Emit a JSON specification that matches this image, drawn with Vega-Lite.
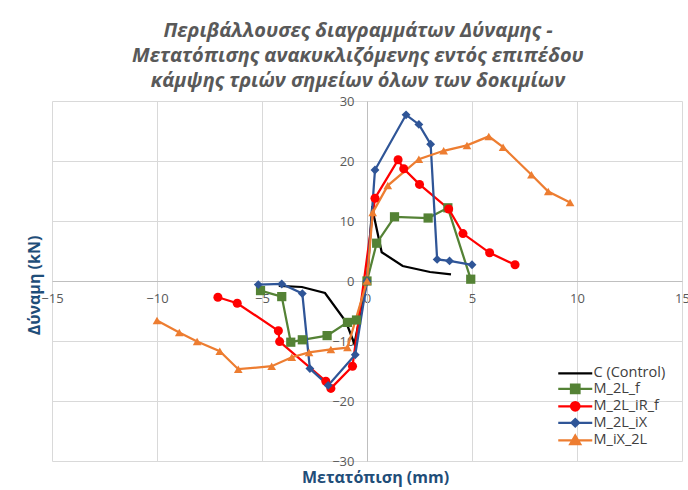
{
  "$schema": "https://vega.github.io/schema/vega-lite/v6.json",
  "width": 630,
  "height": 360,
  "autosize": "none",
  "padding": {"left": 52, "top": 101, "right": 6, "bottom": 29},
  "background": "white",
  "config": {"view": {"stroke": null}, "font": "Open Sans"},
  "title": {
    "text": ["Περιβάλλουσες διαγραμμάτων Δύναμης -", "Μετατόπισης ανακυκλιζόμενης εντός επιπέδου", "κάμψης τριών σημείων όλων των δοκιμίων"],
    "font": "Open Sans",
    "fontStyle": "italic",
    "fontWeight": "bold",
    "fontSize": 20,
    "color": "#595959",
    "lineHeight": 25,
    "anchor": "middle",
    "frame": "group",
    "dx": -9,
    "offset": 4
  },
  "data": {
    "values": [
      {"s": "C (Control)", "i": 1, "x": -4.2, "y": -0.8},
      {"s": "C (Control)", "i": 2, "x": -3.1, "y": -1.0},
      {"s": "C (Control)", "i": 3, "x": -2.0, "y": -2.0},
      {"s": "C (Control)", "i": 4, "x": -1.0, "y": -6.8},
      {"s": "C (Control)", "i": 5, "x": -0.6, "y": -10.5},
      {"s": "C (Control)", "i": 6, "x": 0, "y": 0},
      {"s": "C (Control)", "i": 7, "x": 0.25, "y": 12.5},
      {"s": "C (Control)", "i": 8, "x": 0.35, "y": 10.5},
      {"s": "C (Control)", "i": 9, "x": 0.7, "y": 4.8},
      {"s": "C (Control)", "i": 10, "x": 1.7, "y": 2.5},
      {"s": "C (Control)", "i": 11, "x": 3.0, "y": 1.5},
      {"s": "C (Control)", "i": 12, "x": 4.0, "y": 1.1},

      {"s": "M_2L_f", "i": 1, "x": -5.07, "y": -1.6},
      {"s": "M_2L_f", "i": 2, "x": -4.06, "y": -2.6},
      {"s": "M_2L_f", "i": 3, "x": -3.63, "y": -10.2},
      {"s": "M_2L_f", "i": 4, "x": -3.08, "y": -9.8},
      {"s": "M_2L_f", "i": 5, "x": -1.9, "y": -9.1},
      {"s": "M_2L_f", "i": 6, "x": -0.93, "y": -6.9},
      {"s": "M_2L_f", "i": 7, "x": -0.5, "y": -6.5},
      {"s": "M_2L_f", "i": 8, "x": 0, "y": 0},
      {"s": "M_2L_f", "i": 9, "x": 0.46, "y": 6.3},
      {"s": "M_2L_f", "i": 10, "x": 1.31, "y": 10.7},
      {"s": "M_2L_f", "i": 11, "x": 2.91, "y": 10.5},
      {"s": "M_2L_f", "i": 12, "x": 3.85, "y": 12.2},
      {"s": "M_2L_f", "i": 13, "x": 4.94, "y": 0.3},

      {"s": "M_2L_iR_f", "i": 1, "x": -7.1, "y": -2.7},
      {"s": "M_2L_iR_f", "i": 2, "x": -6.18, "y": -3.7},
      {"s": "M_2L_iR_f", "i": 3, "x": -4.22, "y": -8.3},
      {"s": "M_2L_iR_f", "i": 4, "x": -4.16, "y": -10.1},
      {"s": "M_2L_iR_f", "i": 5, "x": -1.96, "y": -16.7},
      {"s": "M_2L_iR_f", "i": 6, "x": -1.72, "y": -17.9},
      {"s": "M_2L_iR_f", "i": 7, "x": -0.69, "y": -14.2},
      {"s": "M_2L_iR_f", "i": 8, "x": 0.38, "y": 13.8},
      {"s": "M_2L_iR_f", "i": 9, "x": 1.48, "y": 20.2},
      {"s": "M_2L_iR_f", "i": 10, "x": 1.75, "y": 18.7},
      {"s": "M_2L_iR_f", "i": 11, "x": 2.5, "y": 16.1},
      {"s": "M_2L_iR_f", "i": 12, "x": 3.89, "y": 12.0},
      {"s": "M_2L_iR_f", "i": 13, "x": 4.57, "y": 7.9},
      {"s": "M_2L_iR_f", "i": 14, "x": 5.84, "y": 4.7},
      {"s": "M_2L_iR_f", "i": 15, "x": 7.05, "y": 2.7},

      {"s": "M_2L_iX", "i": 1, "x": -5.18, "y": -0.6},
      {"s": "M_2L_iX", "i": 2, "x": -4.06, "y": -0.5},
      {"s": "M_2L_iX", "i": 3, "x": -3.08, "y": -2.1},
      {"s": "M_2L_iX", "i": 4, "x": -2.72, "y": -14.6},
      {"s": "M_2L_iX", "i": 5, "x": -1.85, "y": -17.4},
      {"s": "M_2L_iX", "i": 6, "x": -0.56, "y": -12.3},
      {"s": "M_2L_iX", "i": 7, "x": 0, "y": 0},
      {"s": "M_2L_iX", "i": 8, "x": 0.38, "y": 18.5},
      {"s": "M_2L_iX", "i": 9, "x": 1.86, "y": 27.7},
      {"s": "M_2L_iX", "i": 10, "x": 2.47, "y": 26.1},
      {"s": "M_2L_iX", "i": 11, "x": 3.03, "y": 22.8},
      {"s": "M_2L_iX", "i": 12, "x": 3.34, "y": 3.6},
      {"s": "M_2L_iX", "i": 13, "x": 3.93, "y": 3.35},
      {"s": "M_2L_iX", "i": 14, "x": 5.0, "y": 2.7},

      {"s": "M_iX_2L", "i": 1, "x": -10.0, "y": -6.6},
      {"s": "M_iX_2L", "i": 2, "x": -8.94, "y": -8.6},
      {"s": "M_iX_2L", "i": 3, "x": -8.09, "y": -10.1},
      {"s": "M_iX_2L", "i": 4, "x": -7.01, "y": -11.7},
      {"s": "M_iX_2L", "i": 5, "x": -6.13, "y": -14.7},
      {"s": "M_iX_2L", "i": 6, "x": -4.54, "y": -14.2},
      {"s": "M_iX_2L", "i": 7, "x": -3.58, "y": -12.7},
      {"s": "M_iX_2L", "i": 8, "x": -2.76, "y": -11.9},
      {"s": "M_iX_2L", "i": 9, "x": -1.72, "y": -11.4},
      {"s": "M_iX_2L", "i": 10, "x": -0.93, "y": -11.1},
      {"s": "M_iX_2L", "i": 11, "x": 0, "y": 0},
      {"s": "M_iX_2L", "i": 12, "x": 0.27, "y": 11.4},
      {"s": "M_iX_2L", "i": 13, "x": 0.99, "y": 15.9},
      {"s": "M_iX_2L", "i": 14, "x": 2.47, "y": 20.3},
      {"s": "M_iX_2L", "i": 15, "x": 3.65, "y": 21.7},
      {"s": "M_iX_2L", "i": 16, "x": 4.76, "y": 22.6},
      {"s": "M_iX_2L", "i": 17, "x": 5.8, "y": 24.1},
      {"s": "M_iX_2L", "i": 18, "x": 6.48, "y": 22.3},
      {"s": "M_iX_2L", "i": 19, "x": 7.83, "y": 17.7},
      {"s": "M_iX_2L", "i": 20, "x": 8.63, "y": 14.9},
      {"s": "M_iX_2L", "i": 21, "x": 9.67, "y": 13.1}
    ]
  },
  "encoding": {
    "x": {
      "field": "x", "type": "quantitative",
      "scale": {"domain": [-15, 15], "nice": false, "zero": false},
      "axis": {
        "orient": "bottom", "offset": -180, "values": [-15, -10, -5, 0, 5, 10, 15],
        "grid": true, "gridColor": "#D9D9D9", "gridWidth": 1,
        "ticks": true, "tickSize": 0, "domain": true, "domainColor": "#BFBFBF", "domainWidth": 1,
        "labelFont": "Open Sans", "labelFontSize": 13, "labelColor": "#595959",
        "labelPadding": 11, "labelFlush": false, "labelOverlap": false,
        "title": "Μετατόπιση (mm)", "titleFont": "Open Sans", "titleFontSize": 16,
        "titleFontWeight": "bold", "titleColor": "#1F4E79",
        "titleX": 323, "titleY": 196, "titleBaseline": "middle", "titleAlign": "center"
      }
    },
    "y": {
      "field": "y", "type": "quantitative",
      "scale": {"domain": [-30, 30], "nice": false, "zero": false},
      "axis": {
        "orient": "left", "offset": -315, "values": [-30, -20, -10, 0, 10, 20, 30],
        "grid": true, "gridColor": "#D9D9D9", "gridWidth": 1,
        "ticks": true, "tickSize": 0, "domain": true, "domainColor": "#BFBFBF", "domainWidth": 1,
        "labelFont": "Open Sans", "labelFontSize": 13, "labelColor": "#595959",
        "labelPadding": 13, "labelFlush": false, "labelOverlap": false,
        "title": "Δύναμη (kN)", "titleFont": "Open Sans", "titleFontSize": 16,
        "titleFontWeight": "bold", "titleColor": "#1F4E79",
        "titleX": -333, "titleY": 184, "titleAngle": -90, "titleBaseline": "middle", "titleAlign": "center"
      }
    }
  },
  "layer": [
    {
      "mark": {"type": "line", "strokeWidth": 2.25},
      "encoding": {
        "color": {
          "field": "s", "type": "nominal",
          "scale": {
            "domain": ["C (Control)", "M_2L_f", "M_2L_iR_f", "M_2L_iX", "M_iX_2L"],
            "range": ["#000000", "#548235", "#FF0000", "#2F5597", "#ED7D31"]
          },
          "legend": {
            "orient": "none", "legendX": 516, "legendY": 265, "title": null,
            "padding": 0, "labelFont": "Open Sans", "labelFontSize": 14.5, "labelColor": "#404040",
            "symbolSize": 100, "labelOffset": 11, "rowPadding": -0.5,
            "encode": {
              "symbols": {
                "update": {
                  "shape": {"signal": "datum.value === 'C (Control)' ? 'M-3.4,0H3.4' : datum.value === 'M_2L_f' ? 'M-3.4,0H3.4M-0.85,-0.85H0.85V0.85H-0.85Z' : datum.value === 'M_2L_iR_f' ? 'M-3.4,0H3.4M-0.85,0A0.85,0.85 0 1,0 0.85,0A0.85,0.85 0 1,0 -0.85,0Z' : datum.value === 'M_2L_iX' ? 'M-3.4,0H3.4M0,-0.75L0.75,0L0,0.75L-0.75,0Z' : 'M-3.4,0H3.4M0,-0.95L1,0.75H-1Z'"},
                  "fill": {"scale": "color", "field": "value"},
                  "stroke": {"scale": "color", "field": "value"},
                  "strokeWidth": {"value": 2.25},
                  "opacity": {"value": 1},
                  "fillOpacity": {"value": 1},
                  "strokeOpacity": {"value": 1}
                }
              }
            }
          }
        },
        "order": {"field": "i", "type": "quantitative"}
      }
    },
    {
      "transform": [{"filter": "datum.s !== 'C (Control)'"}],
      "mark": {"type": "point", "filled": true, "opacity": 1},
      "encoding": {
        "color": {"field": "s", "type": "nominal"},
        "shape": {
          "field": "s", "type": "nominal",
          "scale": {"domain": ["M_2L_f", "M_2L_iR_f", "M_2L_iX", "M_iX_2L"], "range": ["square", "circle", "diamond", "triangle-up"]},
          "legend": null
        },
        "size": {
          "field": "s", "type": "nominal",
          "scale": {"domain": ["M_2L_f", "M_2L_iR_f", "M_2L_iX", "M_iX_2L"], "range": [85, 75, 80, 110]},
          "legend": null
        }
      }
    }
  ]
}
